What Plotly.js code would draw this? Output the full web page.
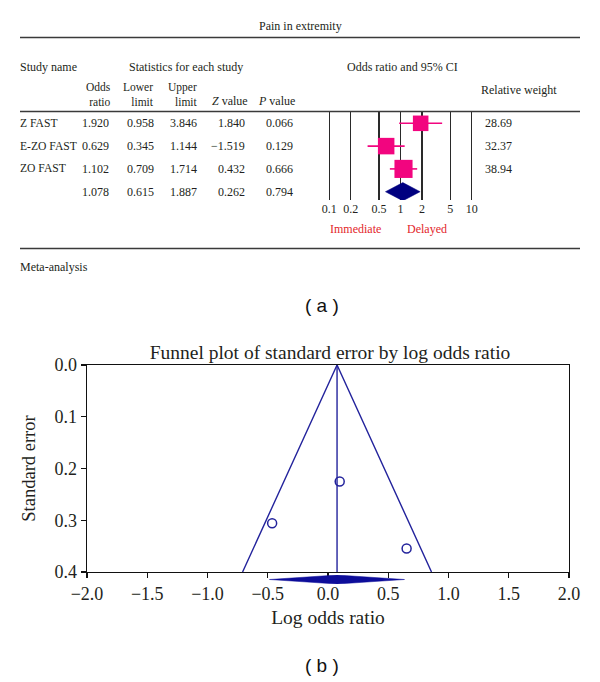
<!DOCTYPE html>
<html>
<head>
<meta charset="utf-8">
<script src="https://cdn.plot.ly/plotly-3.0.1.min.js"></script>
<style>html,body{margin:0;padding:0;background:#fff;}#chart{width:600px;height:682px;}</style>
</head>
<body>
<div id="chart"></div>
<script>
// ---------------- data ----------------
const studies = ['Z FAST', 'E-ZO FAST', 'ZO FAST'];
const oddsRatio = [1.920, 0.629, 1.102];
const lowerLimit = [0.958, 0.345, 0.709];
const upperLimit = [3.846, 1.144, 1.714];
const zValue = [1.840, -1.519, 0.432];
const pValue = [0.066, 0.129, 0.666];
const relWeight = [28.69, 32.37, 38.94];
const summaryOR = 1.078;
const summaryLower = 0.615;
const summaryUpper = 1.887;
const summaryZ = 0.262;
const summaryP = 0.794;
const forestTicks = [0.1, 0.2, 0.5, 1, 2, 5, 10];
const forestTickText = ['0.1', '0.2', '0.5', '1', '2', '5', '10'];
const funnelXTicks = [-2.0, -1.5, -1.0, -0.5, 0.0, 0.5, 1.0, 1.5, 2.0];
const funnelYTicks = [0.0, 0.1, 0.2, 0.3, 0.4];
const funnelMaxSE = 0.4;

// ---------------- helpers ----------------
const W = 600, H = 682;
const px = x => x / W;
const py = y => 1 - y / H;
const SERIF = 'Liberation Serif, Times New Roman, serif';
const TXT = '#231f20';
const PINK = '#f2057f';
const NAVY = '#000080';
const BLUE = '#23239c';
const RED = '#e3262b';
const fmt = v => v.toFixed(3).replace('-', '\u2212');

// ---------------- forest plot traces ----------------
const traces = [];
studies.forEach((s, i) => {
  traces.push({
    type: 'scatter', mode: 'lines', xaxis: 'x', yaxis: 'y',
    x: [lowerLimit[i], upperLimit[i]], y: [i, i],
    line: {color: PINK, width: 1.6}, hoverinfo: 'skip'
  });
});
traces.push({
  type: 'scatter', mode: 'markers', xaxis: 'x', yaxis: 'y',
  x: oddsRatio, y: studies.map((s, i) => i),
  marker: {symbol: 'square', color: PINK, opacity: 1, size: relWeight.map(w => 2.9 * Math.sqrt(w)), line: {width: 0}}
});
const sumRow = studies.length;
traces.push({
  type: 'scatter', mode: 'lines', xaxis: 'x', yaxis: 'y', fill: 'toself',
  x: [summaryLower, summaryOR, summaryUpper, summaryOR, summaryLower],
  y: [sumRow, sumRow - 0.4, sumRow, sumRow + 0.4, sumRow],
  fillcolor: NAVY, line: {color: NAVY, width: 0.5}
});

// ---------------- funnel plot traces ----------------
const lnOR = oddsRatio.map(v => Math.log(v));
const se = studies.map((s, i) => (Math.log(upperLimit[i]) - Math.log(lowerLimit[i])) / (2 * 1.96));
const mu = Math.log(summaryOR);
traces.push({
  type: 'scatter', mode: 'lines', xaxis: 'x2', yaxis: 'y2',
  x: [mu - 1.96 * funnelMaxSE, mu, mu + 1.96 * funnelMaxSE], y: [funnelMaxSE, 0, funnelMaxSE],
  line: {color: BLUE, width: 1.4}
});
traces.push({
  type: 'scatter', mode: 'lines', xaxis: 'x2', yaxis: 'y2',
  x: [mu, mu], y: [0, funnelMaxSE],
  line: {color: BLUE, width: 1.4}
});
traces.push({
  type: 'scatter', mode: 'markers', xaxis: 'x2', yaxis: 'y2',
  x: lnOR, y: se,
  marker: {symbol: 'circle-open', color: BLUE, size: 9, line: {width: 1.5, color: BLUE}}
});
traces.push({
  type: 'scatter', mode: 'lines', xaxis: 'x3', yaxis: 'y3', fill: 'toself',
  x: [Math.log(summaryLower), mu, Math.log(summaryUpper), mu, Math.log(summaryLower)],
  y: [0, 1, 0, -1, 0],
  fillcolor: '#0d0d9a', line: {color: '#0d0d9a', width: 0.5}
});

// ---------------- annotations ----------------
const ann = [];
const T = (text, x, y, opts) => ann.push(Object.assign({
  text: text, x: px(x), y: py(y), xref: 'paper', yref: 'paper',
  showarrow: false, xanchor: 'left', yanchor: 'middle', borderpad: 0,
  font: {family: SERIF, size: 12, color: TXT}
}, opts || {}));

T('Pain in extremity', 300, 26, {xanchor: 'center'});
T('Study name', 19, 67);
T('Statistics for each study', 186, 67, {xanchor: 'center'});
T('Odds ratio and 95% CI', 402, 67, {xanchor: 'center'});
const hdr = {xanchor: 'right', align: 'right', font: {family: SERIF, size: 11.5, color: TXT}};
T('Odds<br>ratio', 112, 94.5, hdr);
T('Lower<br>limit', 155, 94.5, hdr);
T('Upper<br>limit', 199, 94.5, hdr);
T('<i>Z</i> value', 249, 101, {xanchor: 'right'});
T('<i>P</i> value', 296, 101, {xanchor: 'right'});
T('Relative weight', 480, 89.5);
T('Immediate', 355, 229, {xanchor: 'center', font: {family: SERIF, size: 12, color: RED}});
T('Delayed', 427, 229, {xanchor: 'center', font: {family: SERIF, size: 12, color: RED}});
T('Meta-analysis', 19, 267);

const rowCols = [
  {vals: oddsRatio.concat([summaryOR]), x: 110},
  {vals: lowerLimit.concat([summaryLower]), x: 155},
  {vals: upperLimit.concat([summaryUpper]), x: 198},
  {vals: zValue.concat([summaryZ]), x: 246},
  {vals: pValue.concat([summaryP]), x: 294}
];
const rowAnn = (text, x, row, anchor, size) => ann.push({
  text: text, x: px(x), y: row, xref: 'paper', yref: 'y',
  showarrow: false, xanchor: anchor, yanchor: 'middle', borderpad: 0,
  font: {family: SERIF, size: size || 12, color: TXT}
});
studies.forEach((s, i) => {
  rowAnn(s, 19, i, 'left', 11.6);
  rowAnn(relWeight[i].toFixed(2), 484, i, 'left');
});
rowCols.forEach(c => c.vals.forEach((v, i) => rowAnn(fmt(v), c.x, i, 'right')));

// captions
const CAP = {family: 'Liberation Sans, Arial, sans-serif', size: 19, color: '#111'};
ann.push({text: '( a )', x: px(322), y: py(305), xref: 'paper', yref: 'paper', showarrow: false,
  xanchor: 'center', yanchor: 'middle', font: CAP});
ann.push({text: '( b )', x: px(322), y: py(665), xref: 'paper', yref: 'paper', showarrow: false,
  xanchor: 'center', yanchor: 'middle', font: CAP});

// ---------------- rules ----------------
const rule = y => ({type: 'line', xref: 'paper', yref: 'paper', x0: px(20), x1: px(580), y0: py(y), y1: py(y),
  line: {color: '#3a3a3a', width: 1.3}});
const shapes = [rule(37.5), rule(111.5), rule(248.5)];

// ---------------- layout ----------------
// forest axis: 1 at 400.5 px, 71.2 px per decade, range padded so 0.1 and 10 are inside
const fPad = 1.06, fCenter = 400.5, fDec = 71.2;
const layout = {
  width: W, height: H,
  margin: {l: 0, r: 0, t: 0, b: 0, pad: 0},
  paper_bgcolor: '#fff', plot_bgcolor: 'rgba(0,0,0,0)',
  showlegend: false,
  title: {text: 'Funnel plot of standard error by log odds ratio', x: px(330), xref: 'paper', xanchor: 'center',
    y: py(352), yref: 'paper', yanchor: 'middle', font: {family: SERIF, size: 19.5, color: TXT}},
  xaxis: {
    domain: [px(fCenter - fPad * fDec), px(fCenter + fPad * fDec)], anchor: 'y', type: 'log', range: [-fPad, fPad],
    tickmode: 'array', tickvals: forestTicks, ticktext: forestTickText,
    showgrid: true, gridcolor: '#2a2a2a', gridwidth: 1.2, zeroline: false, showline: false,
    ticks: '', tickfont: {family: SERIF, size: 12, color: TXT}, fixedrange: true
  },
  yaxis: {
    domain: [py(200), py(112)], anchor: 'x', range: [3.364, -0.496],
    visible: false, fixedrange: true
  },
  xaxis2: {
    domain: [px(87), px(569)], anchor: 'y2', range: [-2, 2],
    tickmode: 'array', tickvals: funnelXTicks, tickformat: '.1f',
    showline: true, linecolor: '#111', linewidth: 1.3, mirror: true,
    ticks: 'outside', ticklen: 5, tickwidth: 1.2, tickcolor: '#111',
    showgrid: false, zeroline: false,
    tickfont: {family: SERIF, size: 18, color: TXT},
    title: {text: 'Log odds ratio', standoff: 7, font: {family: SERIF, size: 19.5, color: TXT}},
    automargin: false
  },
  yaxis2: {
    domain: [py(572), py(365)], anchor: 'x2', range: [funnelMaxSE, 0],
    tickmode: 'array', tickvals: funnelYTicks, tickformat: '.1f',
    showline: true, linecolor: '#111', linewidth: 1.3, mirror: true,
    ticks: 'outside', ticklen: 5, tickwidth: 1.2, tickcolor: '#111',
    showgrid: false, zeroline: false,
    tickfont: {family: SERIF, size: 18, color: TXT},
    title: {text: 'Standard error', standoff: 14, font: {family: SERIF, size: 18.5, color: TXT}},
    automargin: false
  },
  xaxis3: {domain: [px(87), px(569)], anchor: 'y3', range: [-2, 2], visible: false},
  yaxis3: {domain: [py(584), py(575)], anchor: 'x3', range: [-1, 1], visible: false},
  annotations: ann,
  shapes: shapes
};

Plotly.newPlot('chart', traces, layout, {staticPlot: true, displayModeBar: false});
</script>
</body>
</html>
